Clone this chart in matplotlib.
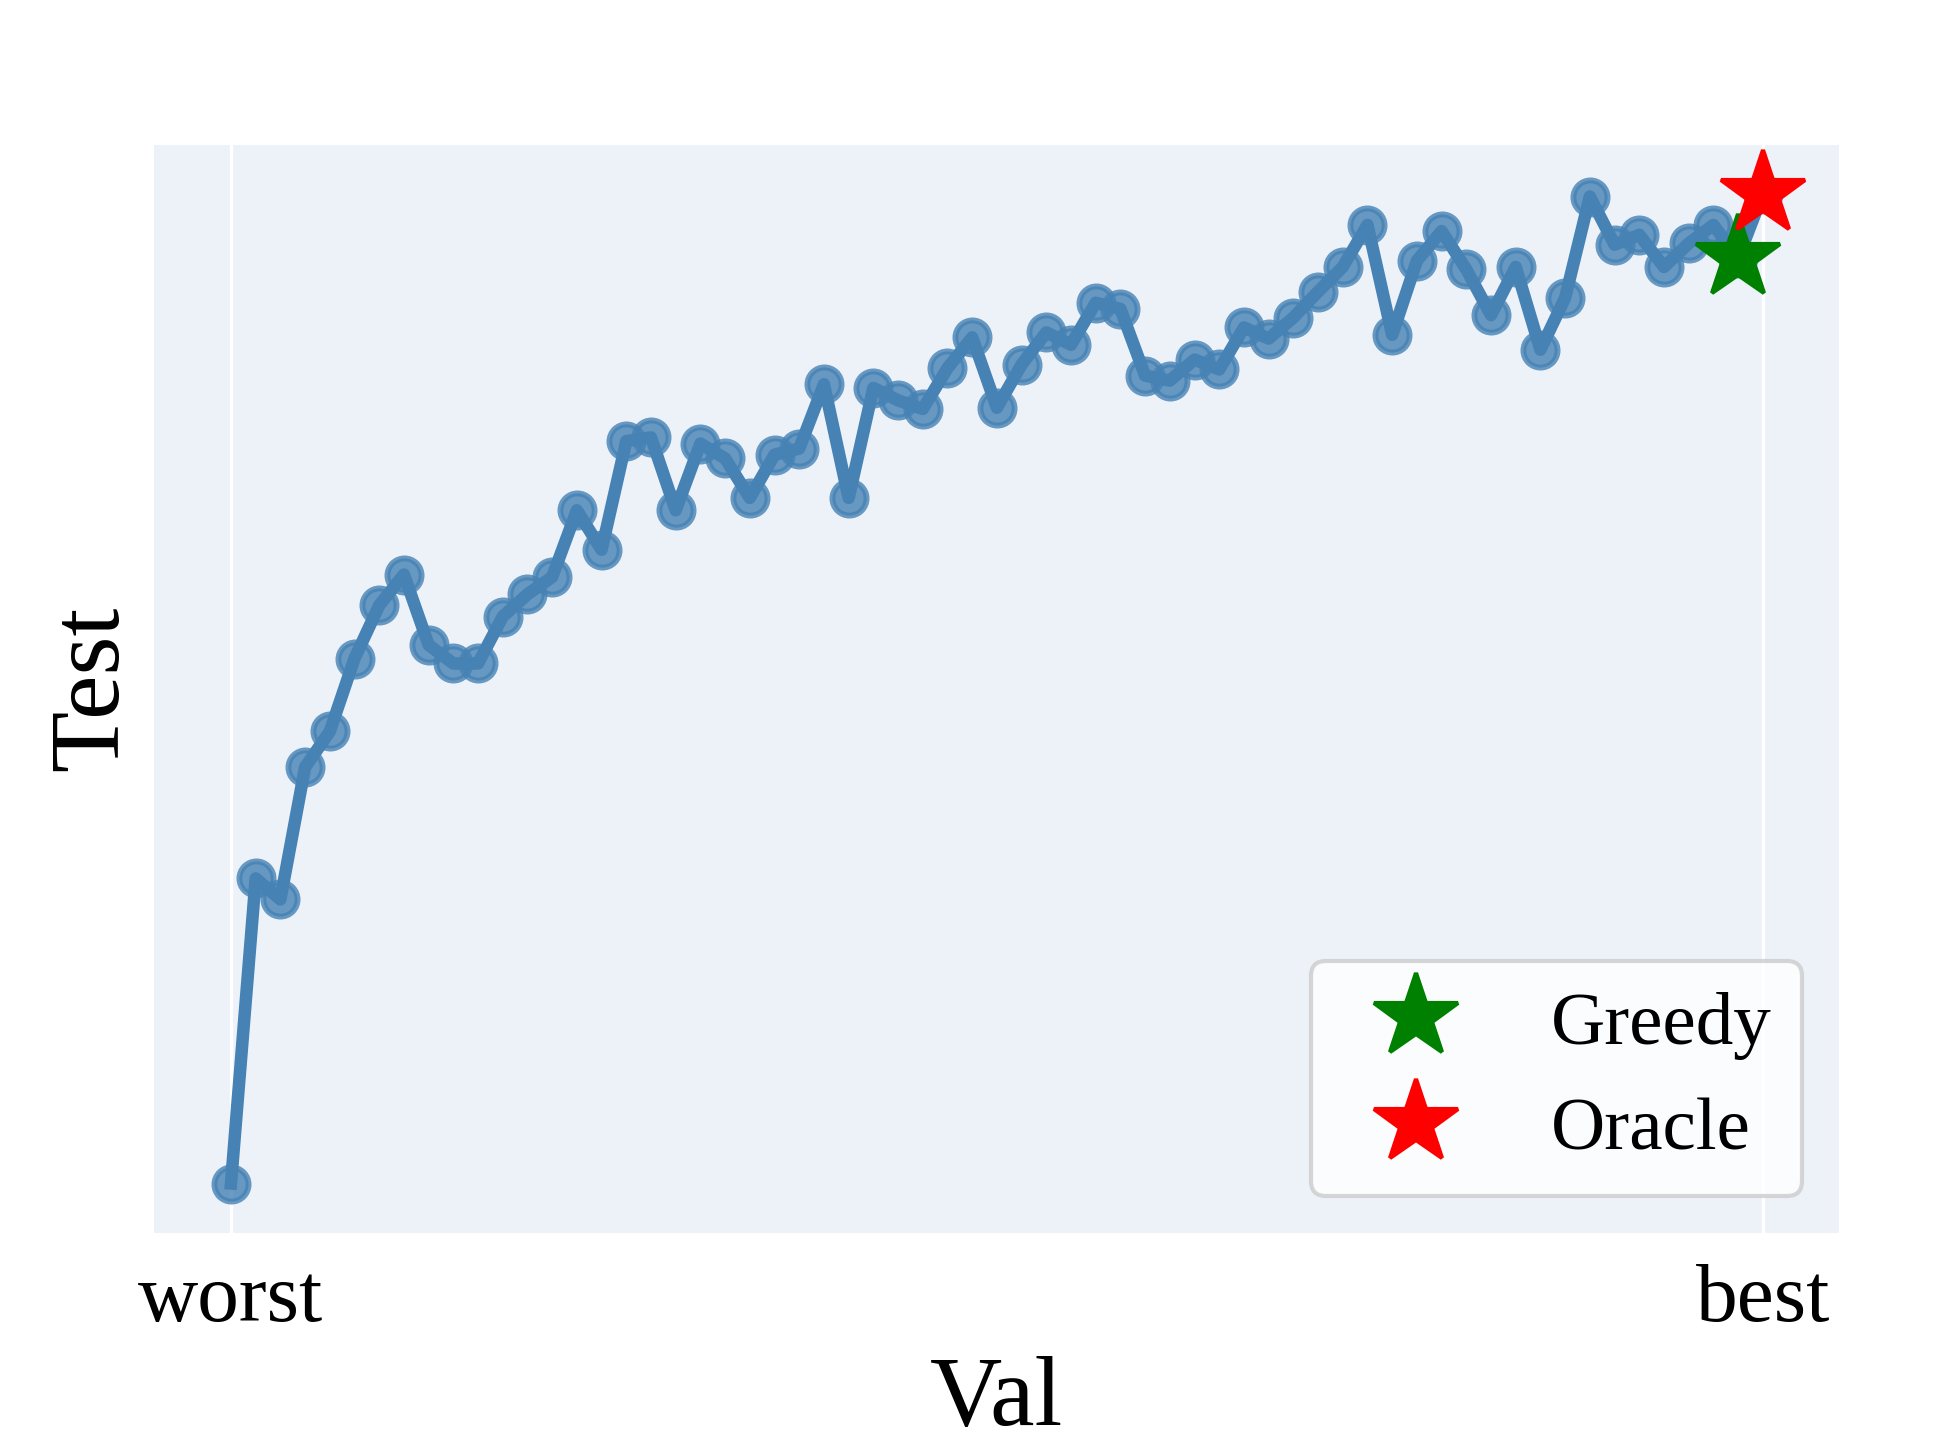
import matplotlib
matplotlib.use("Agg")
import matplotlib.pyplot as plt

plt.rcParams['font.family'] = ['Liberation Serif', 'DejaVu Serif']

# test score of each checkpoint, sorted from worst to best validation score
test_scores = [4.2, 28.9, 27.2, 37.9, 40.8, 46.7, 51.0, 53.5, 47.8, 46.3,
               46.3, 50.1, 51.9, 53.3, 58.7, 55.5, 64.3, 64.6, 58.7, 64.1,
               62.9, 59.7, 63.2, 63.7, 68.9, 59.7, 68.6, 67.6, 66.9, 70.2,
               72.7, 67.0, 70.5, 73.1, 72.1, 75.5, 75.0, 69.6, 69.2, 70.9,
               70.1, 73.5, 72.6, 74.3, 76.4, 78.4, 81.8, 72.9, 78.9, 81.3,
               78.2, 74.5, 78.4, 71.7, 75.9, 84.1, 80.2, 81.0, 78.4, 80.3,
               81.8, 79.1, 84.3]
val_rank = list(range(len(test_scores)))

greedy_idx = 61
oracle_idx = 62
tick_labels = ['worst', 'best']

fig = plt.figure(figsize=(1937 / 300, 1453 / 300), dpi=300)
ax = fig.add_axes([0.0797, 0.1514, 0.8699, 0.7491])
ax.set_facecolor('#EDF2F9')
for s in ax.spines.values():
    s.set_visible(False)

ax.plot(val_rank, test_scores, 'o', color='steelblue', ms=8.2, mew=1.4,
        alpha=0.8, zorder=2)
ax.plot(val_rank, test_scores, '-', color='steelblue', lw=3, zorder=3)

ax.plot(val_rank[greedy_idx], test_scores[greedy_idx], '*', color='green',
        ms=21, ls='none', label='Greedy', zorder=4)
ax.plot(val_rank[oracle_idx], test_scores[oracle_idx], '*', color='red',
        ms=21, ls='none', label='Oracle', zorder=5)

ax.set_xticks([val_rank[0], val_rank[-1]])
ax.set_xticklabels(tick_labels, fontsize=20)
ax.set_yticks([])
ax.tick_params(length=0, pad=7.3)
ax.grid(axis='x', color='white', lw=0.8)
ax.set_axisbelow(True)

ax.set_xlabel('Val', fontsize=24)
ax.set_ylabel('Test', fontsize=24)

leg = ax.legend(loc='lower right', fontsize=18, frameon=True, fancybox=True)
leg.get_frame().set_edgecolor('0.8')
leg.get_frame().set_linewidth(1.0)

fig.savefig('out.png', dpi=300)
